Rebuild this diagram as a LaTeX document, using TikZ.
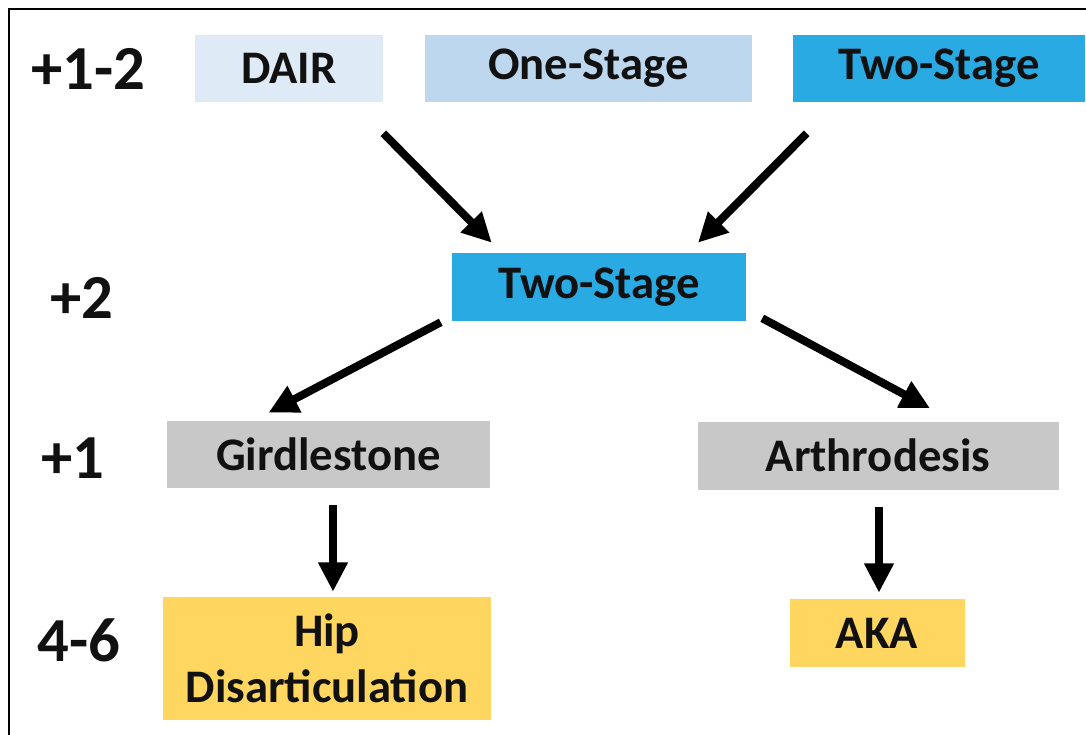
\documentclass[tikz,border=0pt]{standalone}
\usepackage{fontspec}
\setmainfont{Carlito}
\usetikzlibrary{arrows.meta}
\definecolor{cDair}{HTML}{DEEBF7}
\definecolor{cOne}{HTML}{BDD7EE}
\definecolor{cTwo}{HTML}{2AAAE2}
\definecolor{cGray}{HTML}{C8C8C8}
\definecolor{cYel}{HTML}{FFD660}
\definecolor{cTxt}{HTML}{111111}
\begin{document}
\begin{tikzpicture}[x=0.75pt,y=-0.75pt,
  box/.style={inner sep=0pt,text=cTxt,align=center,
    font=\fontsize{35}{42}\selectfont\bfseries},
  lvl/.style={inner sep=0pt,text=cTxt,font=\fontsize{47}{54}\selectfont\bfseries},
  conn/.style={line width=6pt,-{Triangle[length=22pt,width=21pt]}},
  frame/.style={line width=1.6pt,draw=black}]
\useasboundingbox (0,0) rectangle (1086,735);
\fill[white] (0,0) rectangle (1086,735);
\draw[frame] (9,735) -- (9,9) -- (1086,9);
% boxes
\node[box,fill=cDair,minimum width=188*0.75pt,minimum height=67*0.75pt] (dair) at (289,68.5) {DAIR};
\node[box,fill=cOne,minimum width=327*0.75pt,minimum height=67*0.75pt] (one) at (588.5,68.5) {One-Stage};
\node[box,fill=cTwo,minimum width=292*0.75pt,minimum height=67*0.75pt] (twoT) at (939,68.5) {Two-Stage};
\node[box,fill=cTwo,minimum width=294*0.75pt,minimum height=68*0.75pt] (mid) at (599,287) {Two-Stage};
\node[box,fill=cGray,minimum width=323*0.75pt,minimum height=67*0.75pt] (gird) at (328.5,454.5) {Girdlestone};
\node[box,fill=cGray,minimum width=361*0.75pt,minimum height=68*0.75pt] (arth) at (878,455.5) {Arthrodesis};
\node[box,fill=cYel,minimum width=328*0.75pt,minimum height=123*0.75pt] (hip) at (327,658.5) {Hip\\Disarticulation};
\node[box,fill=cYel,minimum width=175*0.75pt,minimum height=68*0.75pt] (aka) at (877,633) {AKA};
% level labels
\node[lvl] (l1) at (88.5,69) {+1-2};
\node[lvl] (l2) at (82,298) {+2};
\node[lvl] (l3) at (72.5,458) {+1};
\node[lvl] (l4) at (79,640) {4-6};
% connectors
\draw[conn] ([shift={(0,31)}]dair.south east) -- ([shift={(40,-10)}]mid.north west);
\draw[conn] ([shift={(14,31)}]twoT.south west) -- ([shift={(99,-10)}]mid.north);
\draw[conn] ([shift={(-11,1)}]mid.south west) -- ([shift={(-60,-8)}]gird.north);
\draw[conn] ([shift={(16,-3)}]mid.south east) -- ([shift={(52,-13)}]arth.north);
\draw[conn] ([shift={(4.5,17)}]gird.south) -- ([shift={(6,-5)}]hip.north);
\draw[conn] ([shift={(1,17)}]arth.south) -- ([shift={(2,-6)}]aka.north);
\end{tikzpicture}
\end{document}
